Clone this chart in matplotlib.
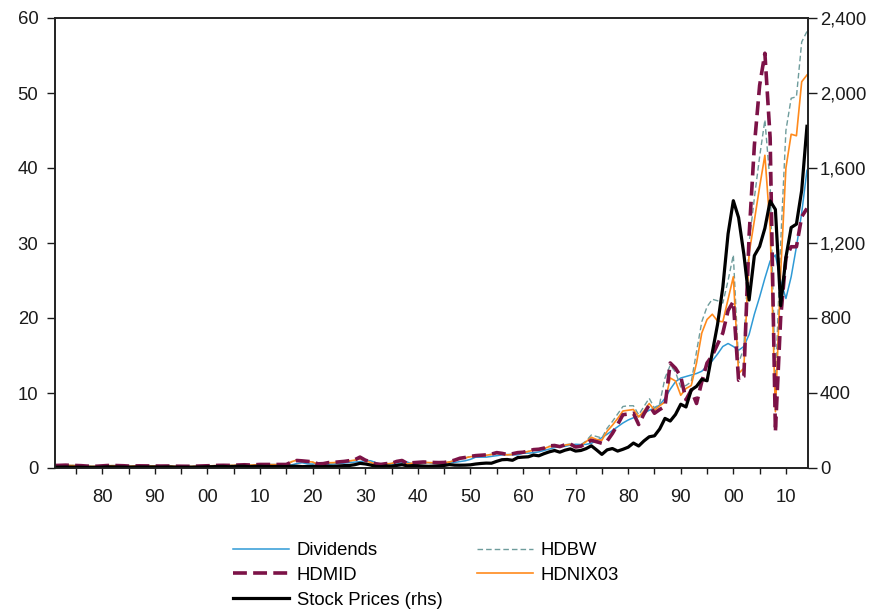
import matplotlib
matplotlib.use("Agg")
import matplotlib.pyplot as plt
import numpy as np

plt.rcParams['font.family'] = ['Liberation Sans', 'DejaVu Sans']
plt.rcParams['lines.scale_dashes'] = False

years = list(range(1871, 2015))

dividends = [
    0.26, 0.30, 0.33, 0.33, 0.31, 0.29, 0.24, 0.19, 0.19, 0.20,
    0.26, 0.32, 0.32, 0.31, 0.25, 0.22, 0.24, 0.25, 0.22, 0.21,
    0.21, 0.19, 0.21, 0.21, 0.18, 0.18, 0.18, 0.18, 0.19, 0.21,
    0.24, 0.28, 0.31, 0.33, 0.31, 0.34, 0.39, 0.41, 0.36, 0.41,
    0.45, 0.45, 0.46, 0.45, 0.44, 0.41, 0.60, 0.70, 0.55, 0.53,
    0.58, 0.47, 0.51, 0.53, 0.57, 0.66, 0.72, 0.77, 0.85, 0.98,
    0.97, 0.72, 0.44, 0.44, 0.45, 0.51, 0.71, 0.79, 0.53, 0.67,
    0.72, 0.70, 0.62, 0.64, 0.65, 0.67, 0.74, 0.86, 0.96, 1.15,
    1.44, 1.45, 1.45, 1.54, 1.64, 1.74, 1.79, 1.75, 1.75, 1.98,
    1.98, 2.04, 2.15, 2.33, 2.52, 2.72, 2.87, 2.88, 3.07, 3.16,
    3.13, 3.15, 3.30, 3.65, 4.05, 4.50, 5.00, 5.50, 6.00, 6.40,
    6.70, 6.90, 7.30, 7.70, 8.00, 8.40, 9.30, 10.50, 11.50, 12.00,
    12.20, 12.40, 12.60, 12.90, 13.60, 14.30, 15.20, 16.20, 16.60, 16.20,
    15.70, 16.20, 17.80, 20.50, 22.80, 25.30, 27.60, 28.40, 25.00, 22.60,
    25.50, 29.50, 34.00, 39.70,
]

hdnix03 = [
    0.30, 0.33, 0.35, 0.34, 0.31, 0.29, 0.24, 0.21, 0.22, 0.26,
    0.30, 0.31, 0.30, 0.28, 0.24, 0.26, 0.27, 0.26, 0.25, 0.25,
    0.24, 0.25, 0.25, 0.22, 0.21, 0.21, 0.21, 0.23, 0.26, 0.27,
    0.30, 0.33, 0.34, 0.33, 0.36, 0.40, 0.41, 0.38, 0.42, 0.45,
    0.45, 0.46, 0.46, 0.44, 0.45, 0.85, 1.05, 0.95, 0.85, 0.80,
    0.50, 0.55, 0.70, 0.72, 0.80, 0.85, 0.95, 1.05, 1.25, 1.00,
    0.75, 0.50, 0.45, 0.55, 0.60, 0.85, 0.95, 0.55, 0.65, 0.70,
    0.75, 0.72, 0.70, 0.68, 0.70, 0.80, 1.00, 1.25, 1.35, 1.50,
    1.60, 1.65, 1.70, 1.80, 1.95, 1.85, 1.75, 1.80, 2.00, 2.05,
    2.20, 2.40, 2.45, 2.60, 2.85, 2.90, 2.80, 3.05, 3.15, 2.75,
    3.00, 3.50, 4.10, 3.80, 3.70, 4.90, 5.70, 6.60, 7.60, 7.70,
    7.80, 6.80, 7.60, 8.60, 7.70, 8.30, 8.80, 12.00, 11.60, 9.70,
    10.60, 11.00, 14.00, 18.00, 19.80, 20.50, 19.60, 19.50, 22.50, 25.50,
    12.60, 13.30, 28.60, 33.00, 37.50, 41.70, 32.00, 7.50, 26.00, 40.00,
    44.50, 44.30, 51.50, 52.40,
]

hdbw = [
    0.31, 0.34, 0.36, 0.35, 0.32, 0.30, 0.25, 0.22, 0.23, 0.27,
    0.31, 0.32, 0.31, 0.29, 0.25, 0.27, 0.28, 0.27, 0.26, 0.26,
    0.25, 0.26, 0.26, 0.23, 0.22, 0.22, 0.22, 0.24, 0.27, 0.28,
    0.31, 0.34, 0.35, 0.34, 0.37, 0.41, 0.42, 0.39, 0.43, 0.46,
    0.46, 0.47, 0.47, 0.45, 0.46, 0.80, 1.00, 0.92, 0.82, 0.78,
    0.50, 0.55, 0.68, 0.70, 0.78, 0.84, 0.92, 1.02, 1.20, 0.98,
    0.72, 0.50, 0.45, 0.55, 0.60, 0.82, 0.92, 0.55, 0.64, 0.70,
    0.74, 0.72, 0.70, 0.68, 0.70, 0.80, 1.00, 1.22, 1.35, 1.52,
    1.62, 1.67, 1.72, 1.82, 1.98, 1.88, 1.78, 1.85, 2.02, 2.08,
    2.22, 2.42, 2.48, 2.62, 2.90, 2.95, 2.85, 3.10, 3.20, 2.85,
    3.10, 3.60, 4.40, 4.20, 4.00, 5.30, 6.20, 7.20, 8.20, 8.30,
    8.30, 7.10, 8.20, 9.30, 8.00, 8.60, 12.00, 13.70, 12.80, 10.80,
    11.00, 11.50, 15.50, 19.50, 21.50, 22.50, 22.30, 22.00, 25.00, 28.40,
    14.00, 16.00, 30.00, 36.00, 41.50, 46.40, 38.00, 11.00, 30.00, 45.00,
    49.30, 49.50, 56.80, 58.20,
]

hdmid = [
    0.33, 0.36, 0.38, 0.36, 0.33, 0.31, 0.26, 0.23, 0.24, 0.29,
    0.33, 0.34, 0.32, 0.30, 0.26, 0.28, 0.29, 0.28, 0.27, 0.27,
    0.26, 0.27, 0.27, 0.24, 0.23, 0.23, 0.23, 0.25, 0.28, 0.29,
    0.32, 0.35, 0.36, 0.35, 0.38, 0.42, 0.43, 0.40, 0.44, 0.47,
    0.47, 0.48, 0.48, 0.46, 0.47, 0.80, 1.00, 0.95, 0.88, 0.82,
    0.55, 0.58, 0.72, 0.75, 0.82, 0.88, 0.98, 1.10, 1.45, 1.05,
    0.80, 0.55, 0.48, 0.58, 0.62, 0.88, 1.00, 0.60, 0.70, 0.75,
    0.80, 0.78, 0.74, 0.72, 0.74, 0.85, 1.05, 1.30, 1.40, 1.55,
    1.65, 1.70, 1.75, 1.85, 2.05, 1.95, 1.80, 1.90, 2.05, 2.10,
    2.25, 2.45, 2.50, 2.65, 2.95, 3.00, 2.85, 3.10, 3.20, 2.80,
    2.90, 3.30, 3.70, 3.50, 3.30, 3.60, 4.60, 5.80, 7.10, 7.20,
    7.30, 5.80, 7.20, 8.40, 7.30, 7.80, 8.20, 14.00, 13.30, 12.20,
    9.10, 10.40, 8.60, 11.50, 14.00, 15.00, 16.50, 18.00, 21.00, 22.20,
    11.70, 12.20, 31.00, 43.00, 51.00, 55.30, 44.00, 4.80, 20.00, 28.00,
    29.50, 29.50, 33.50, 34.60,
]

stock_prices = [
    4.44, 4.86, 5.11, 4.66, 4.54, 4.46, 3.55, 3.25, 3.58, 5.11,
    6.19, 5.92, 5.81, 5.18, 4.24, 5.20, 5.58, 5.31, 5.24, 5.38,
    4.84, 5.51, 5.61, 4.32, 4.25, 4.27, 4.22, 4.88, 6.08, 6.10,
    7.07, 8.12, 8.46, 6.68, 8.43, 9.87, 9.56, 7.01, 8.81, 9.30,
    8.23, 8.37, 8.74, 8.37, 7.48, 9.33, 9.57, 7.21, 7.85, 8.83,
    7.11, 7.30, 8.90, 8.83, 10.58, 12.65, 13.40, 17.53, 24.86, 21.71,
    15.98, 8.30, 7.09, 10.54, 9.26, 13.76, 17.59, 11.31, 12.50, 12.30,
    10.55, 8.93, 10.09, 11.85, 13.49, 18.02, 15.21, 14.83, 15.36, 16.88,
    21.21, 24.19, 26.18, 25.46, 35.60, 44.15, 45.43, 41.12, 55.62, 58.03,
    59.72, 69.07, 65.06, 76.45, 86.12, 93.32, 84.45, 95.04, 102.0, 90.31,
    93.49, 103.3, 118.4, 96.11, 72.56, 96.86, 103.8, 90.25, 99.71, 110.9,
    133.0, 117.3, 144.3, 166.4, 171.6, 208.2, 264.5, 250.5, 285.4, 340.0,
    325.5, 416.1, 435.2, 473.0, 465.3, 614.4, 766.2, 963.4, 1248.8, 1425.6,
    1335.6, 1140.2, 895.8, 1132.5, 1181.4, 1278.7, 1424.2, 1378.8, 865.6, 1123.6,
    1282.6, 1300.6, 1480.4, 1822.4,
]

x_ticks = list(range(1875, 2015, 5))
x_labels = [("%02d" % (y % 100)) if y % 10 == 0 else "" for y in x_ticks]
left_ticks = [0, 10, 20, 30, 40, 50, 60]
right_ticks = [0, 400, 800, 1200, 1600, 2000, 2400]

fig = plt.figure(figsize=(8.73, 6.13), dpi=100)
ax = fig.add_axes([55 / 873, 1 - 468 / 613, (808 - 55) / 873, (468 - 18) / 613])
ax2 = ax.twinx()

c_div = '#2f9ad6'
c_bw = '#6e9c9c'
c_mid = '#7c1247'
c_nix = '#ff8a1c'

l_div, = ax.plot(years, dividends, color=c_div, lw=1.1, label='Dividends')
l_bw, = ax.plot(years, hdbw, color=c_bw, lw=1.0, dashes=(4.0, 2.2), label='HDBW')
l_nix, = ax.plot(years, hdnix03, color=c_nix, lw=1.2, label='HDNIX03')
l_mid, = ax.plot(years, hdmid, color=c_mid, lw=2.6, dashes=(10, 4.5), label='HDMID')
l_sp, = ax2.plot(years, stock_prices, color='black', lw=2.3, label='Stock Prices (rhs)')

ax.set_xlim(1871, 2014.2)
ax.set_ylim(0, 60)
ax2.set_ylim(0, 2400)
ax.set_xticks(x_ticks)
ax.set_xticklabels(x_labels)
ax.set_yticks(left_ticks)
ax.set_yticklabels([str(v) for v in left_ticks])
ax2.set_yticks(right_ticks)
ax2.set_yticklabels(["{:,}".format(v) for v in right_ticks])

tick_col = '#1a1a1a'
fs = 13.3
ax.tick_params(axis='x', direction='out', length=4.5, width=1.0, pad=10.5, labelsize=fs, colors=tick_col)
ax.tick_params(axis='y', direction='out', length=6, width=1.0, pad=6, labelsize=fs, colors=tick_col)
ax2.tick_params(axis='y', direction='out', length=6.5, width=1.0, pad=2, labelsize=fs, colors=tick_col)
ax.tick_params(axis='x', top=False)

for a in (ax, ax2):
    for s in a.spines.values():
        s.set_linewidth(1.2)
        s.set_color('#222222')

common = dict(loc='upper left', frameon=False, fontsize=fs, handlelength=3.05,
              handletextpad=0.4, labelspacing=0.42, borderpad=0, borderaxespad=0)
fig.legend([l_div, l_mid, l_sp], ['Dividends', 'HDMID', 'Stock Prices (rhs)'],
           bbox_to_anchor=(233 / 873, 1 - 542 / 613), **common)
fig.legend([l_bw, l_nix], ['HDBW', 'HDNIX03'],
           bbox_to_anchor=(477 / 873, 1 - 542 / 613), **common)

fig.savefig('out.png', dpi=100)
